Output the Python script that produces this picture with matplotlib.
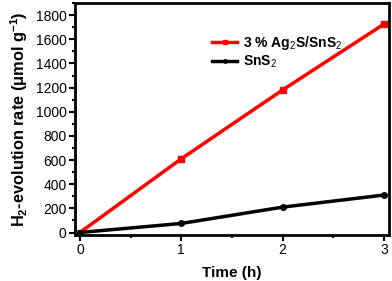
import matplotlib
matplotlib.use("Agg")
import matplotlib.pyplot as plt
from matplotlib.ticker import MultipleLocator

plt.rcParams['font.family'] = ['Liberation Sans', 'DejaVu Sans']
plt.rcParams['mathtext.fontset'] = 'custom'
plt.rcParams['mathtext.rm'] = 'Liberation Sans'
plt.rcParams['mathtext.bf'] = 'Liberation Sans:bold'

time_h = [0, 1, 2, 3]
ag2s_sns2 = [0, 610, 1180, 1725]
sns2 = [0, 75, 210, 310]
labels = ['3 % Ag$_2$S/SnS$_2$', 'SnS$_2$']

fig = plt.figure(figsize=(3.92, 2.81), dpi=100)
ax = fig.add_axes([0.191, 0.164, 0.801, 0.825])

ax.plot(time_h, ag2s_sns2, color='#ff0000', lw=2.5, marker='s', ms=4, label=labels[0])
ax.plot(time_h, sns2, color='black', lw=2.5, marker='o', ms=4, label=labels[1])

ax.set_xlim(-0.05, 3.05)
ax.set_ylim(-20, 1900)
ax.xaxis.set_major_locator(MultipleLocator(1))
ax.xaxis.set_minor_locator(MultipleLocator(0.5))
ax.yaxis.set_major_locator(MultipleLocator(200))
ax.yaxis.set_minor_locator(MultipleLocator(100))
ax.tick_params(which='major', direction='out', length=4, width=1.5, labelsize=10, pad=2)
ax.tick_params(which='minor', direction='out', length=2.5, width=1.5)
for s in ax.spines.values():
    s.set_linewidth(2)

ax.set_xlabel('Time (h)', fontsize=11, fontweight='bold', labelpad=6)
ax.set_ylabel('H$_\\mathbf{2}$-evolution rate ($\\mathbf{\\mu}$mol g$^{\\mathbf{-1}}$)', fontsize=11.8, fontweight='bold', labelpad=4)

leg = ax.legend(loc='upper left', bbox_to_anchor=(0.42, 0.89), frameon=False,
                prop={'weight': 'bold', 'size': 10}, handlelength=1.8, handletextpad=0.4,
                labelspacing=0.12, markerscale=0.6, borderaxespad=0)

fig.savefig('out.png', dpi=100)
